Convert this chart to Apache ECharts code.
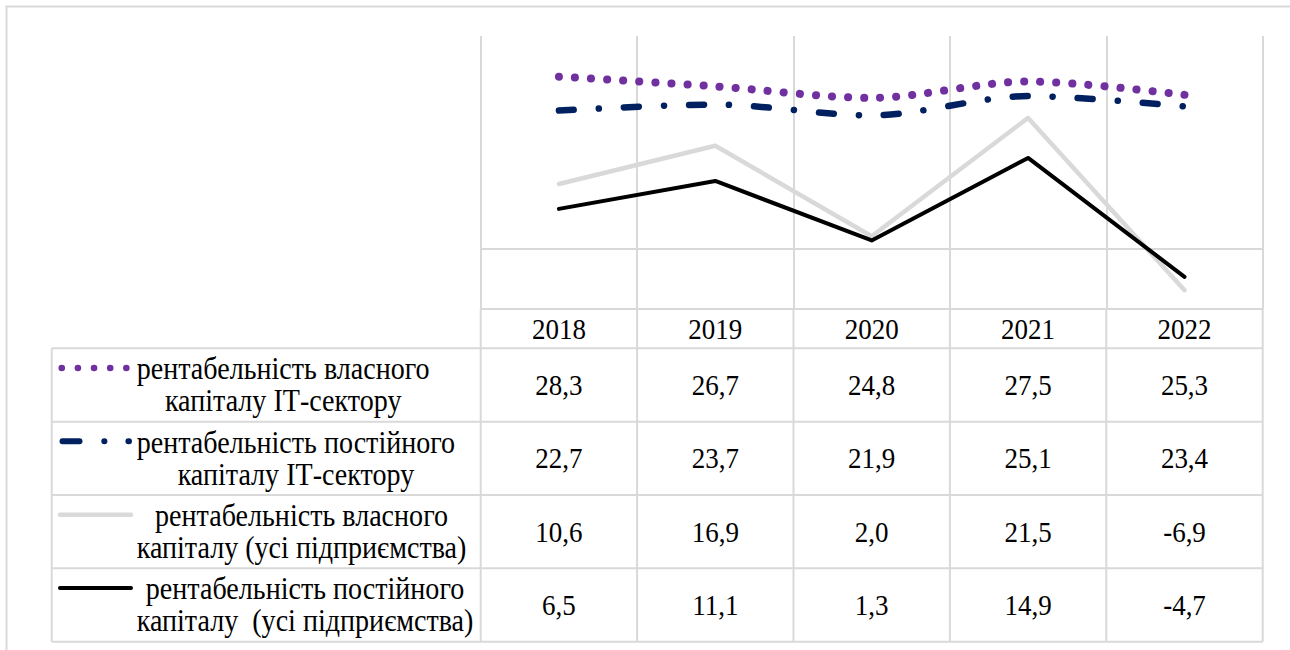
<!DOCTYPE html>
<html><head><meta charset="utf-8">
<script src="https://cdn.jsdelivr.net/npm/echarts@6/dist/echarts.min.js"></script>
<style>html,body{margin:0;padding:0;background:#fff}#chart{width:1290px;height:650px}</style>
</head><body><div id="chart"></div>
<script>
// ---- data ----
const years = ['2018', '2019', '2020', '2021', '2022'];
const roeIT = [28.3, 26.7, 24.8, 27.5, 25.3];
const rocIT = [22.7, 23.7, 21.9, 25.1, 23.4];
const roeAll = [10.6, 16.9, 2.0, 21.5, -6.9];
const rocAll = [6.5, 11.1, 1.3, 14.9, -4.7];
const seriesLabels = [
  ['рентабельність власного', 'капіталу ІТ-сектору'],
  ['рентабельність постійного', 'капіталу ІТ-сектору'],
  ['рентабельність власного', 'капіталу (усі підприємства)'],
  ['рентабельність постійного', 'капіталу  (усі підприємства)']
];
const yMin = -10, yMax = 35;
// ---- end data ----

const FONT_FAMILY = 'Liberation Serif';
const FS = 27;
const SY = 1.1; // vertical stretch of the reference text
const GRID_COLOR = '#d9d9d9';
const seriesData = [roeIT, rocIT, roeAll, rocAll];
const styles = [
  { color: '#7030A0', width: 8, type: [0.1, 16], cap: 'round', smooth: 0.3 },
  { color: '#002060', width: 6.5, type: [15, 25, 0.1, 25], cap: 'round', smooth: 0.3 },
  { color: '#D9D9D9', width: 4.5, type: 'solid', cap: 'round', smooth: false },
  { color: '#000000', width: 4, type: 'solid', cap: 'round', smooth: false }
];
const keyStyles = [
  { dash: [0.1, 16.05], width: 6.5, x1: 61.7, x2: 126.5 },
  { dash: [17, 24.8, 0.1, 24], width: 6, x1: 62.5, x2: 129 },
  { dash: null, width: 4.5, x1: 60, x2: 131 },
  { dash: null, width: 4, x1: 60, x2: 131 }
];

const chart = echarts.init(document.getElementById('chart'), null, { renderer: 'svg' });

const option = {
  animation: false,
  backgroundColor: '#ffffff',
  textStyle: { fontFamily: FONT_FAMILY },
  grid: { left: 480.7, right: 27.3, top: 36, bottom: 341 },
  xAxis: {
    type: 'category',
    data: years,
    boundaryGap: true,
    axisLabel: { show: false },
    axisTick: { show: false },
    axisLine: { show: true, onZero: true, lineStyle: { color: GRID_COLOR, width: 2 } },
    splitLine: { show: true, lineStyle: { color: GRID_COLOR, width: 2 } }
  },
  yAxis: {
    type: 'value',
    min: yMin, max: yMax,
    show: false,
    splitLine: { show: false }
  },
  series: seriesData.map((d, i) => ({
    type: 'line',
    name: seriesLabels[i].join(' '),
    data: d,
    showSymbol: false,
    smooth: styles[i].smooth,
    lineStyle: { color: styles[i].color, width: styles[i].width, type: styles[i].type, cap: styles[i].cap, join: 'round' },
    z: 2 + i
  }))
};
chart.setOption(option);

// ---- data table drawn under the plot ----
const centers = years.map((_, i) => chart.convertToPixel({ xAxisIndex: 0 }, i));
const catW = centers[1] - centers[0];
const bounds = [centers[0] - catW / 2].concat(centers.map(c => c + catW / 2));
const tableLeft = 51.7;
const rowYs = [309, 348.3, 421.7, 495, 568.3, 641.7];
const textLeft = 136.7;

const cvs = document.createElement('canvas').getContext('2d');
const measure = (t, fs) => { cvs.font = fs + 'px "' + FONT_FAMILY + '"'; return cvs.measureText(t).width; };
// label font size chosen so the first label line spans the same width as in the reference
const LFS = FS * 293 / measure('рентабельність власного', FS);

const graphics = [];
const lineStyle = { stroke: GRID_COLOR, lineWidth: 2 };
// outer frame
graphics.push({ type: 'rect', shape: { x: 6.5, y: 6.5, width: 1400, height: 1000 }, style: { fill: 'none', stroke: GRID_COLOR, lineWidth: 2 }, silent: true });
// horizontal table lines
rowYs.forEach((y, k) => {
  const x1 = k === 0 ? bounds[0] : tableLeft;
  graphics.push({ type: 'line', shape: { x1, y1: y, x2: bounds[bounds.length - 1], y2: y }, style: lineStyle, silent: true });
});
// vertical table lines
graphics.push({ type: 'line', shape: { x1: tableLeft, y1: rowYs[1], x2: tableLeft, y2: rowYs[5] }, style: lineStyle, silent: true });
bounds.forEach(x => {
  graphics.push({ type: 'line', shape: { x1: x, y1: rowYs[0], x2: x, y2: rowYs[5] }, style: lineStyle, silent: true });
});
const textEl = (text, x, y, fs) => ({
  type: 'text', silent: true, x, y, scaleX: 1, scaleY: SY,
  style: { text, x: 0, y: 0, fill: '#000', fontSize: fs, fontFamily: FONT_FAMILY,
    align: 'center', textAlign: 'center', verticalAlign: 'middle', textVerticalAlign: 'middle' }
});
// header
years.forEach((yr, i) => {
  graphics.push(textEl(yr, centers[i], (rowYs[0] + rowYs[1]) / 2, FS));
});
// rows
seriesData.forEach((d, r) => {
  const yMid = (rowYs[r + 1] + rowYs[r + 2]) / 2;
  d.forEach((v, i) => {
    graphics.push(textEl(v.toFixed(1).replace('.', ','), centers[i], yMid, FS));
  });
  const lines = seriesLabels[r];
  const bw = Math.max.apply(null, lines.map(t => measure(t, LFS)));
  const cx = textLeft + bw / 2;
  graphics.push(textEl(lines[0], cx, yMid - 16, LFS));
  graphics.push(textEl(lines[1], cx, yMid + 16, LFS));
  const ks = keyStyles[r];
  const ky = yMid - 17;
  graphics.push({ type: 'line', silent: true, shape: { x1: ks.x1, y1: ky, x2: ks.x2, y2: ky },
    style: { stroke: styles[r].color, lineWidth: ks.width, lineDash: ks.dash, lineCap: 'round' } });
});
chart.setOption({ graphic: { elements: graphics } });
</script>
</body></html>
